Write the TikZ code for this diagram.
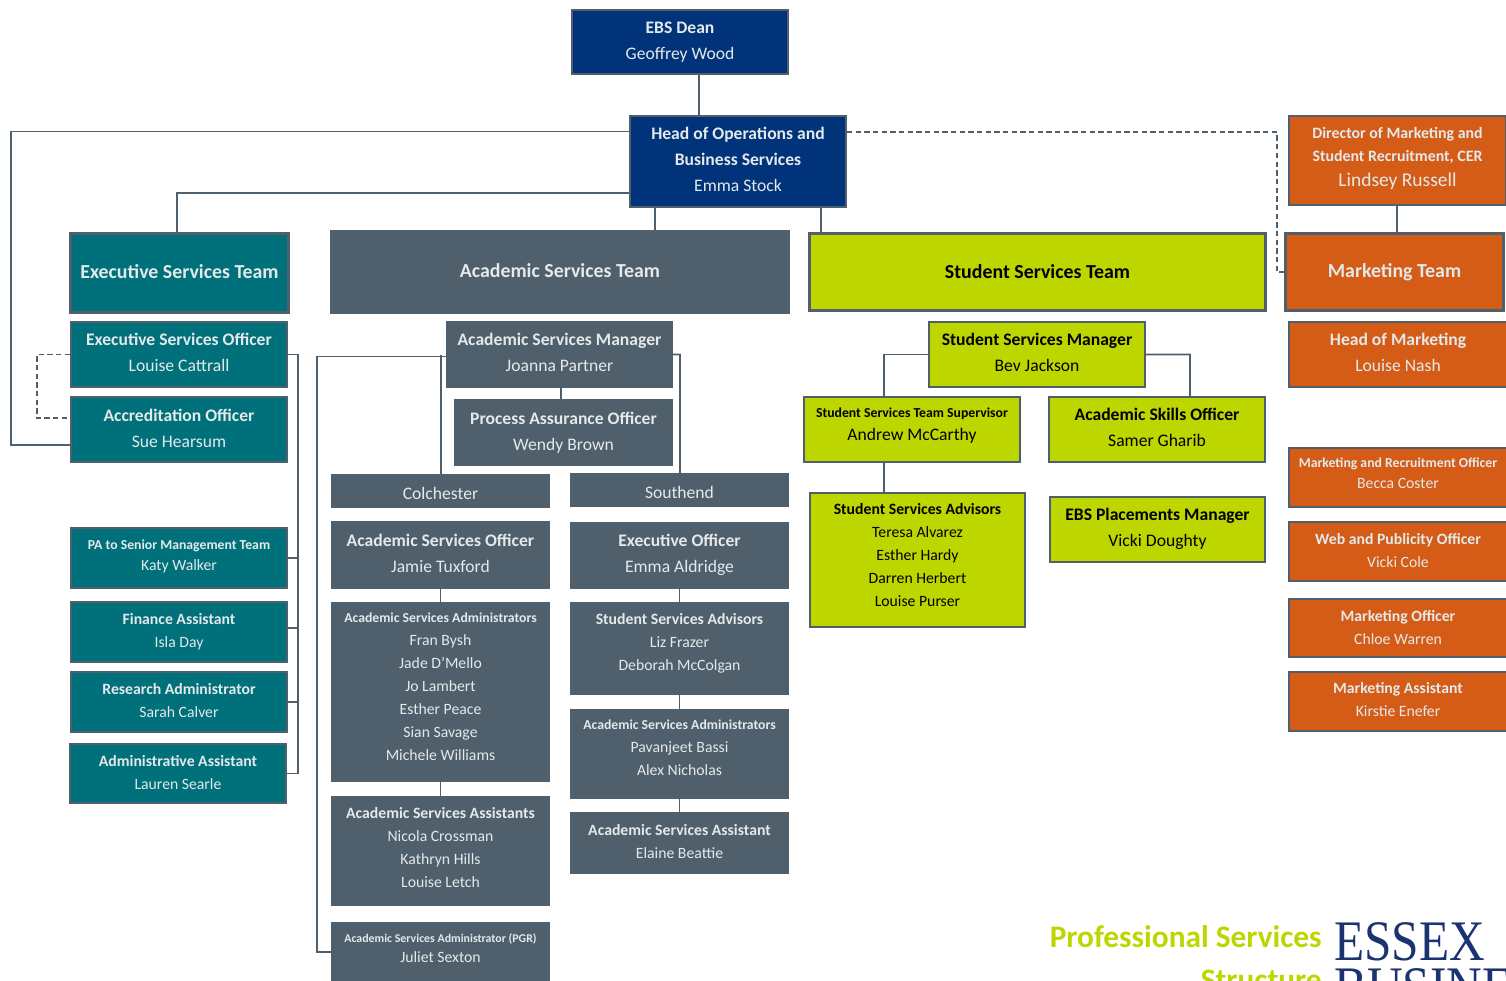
\documentclass[tikz,border=0pt]{standalone}
\usepackage{fontspec}
\setmainfont{Carlito}
\newfontfamily\logofont{Liberation Serif}
\usetikzlibrary{positioning,calc}
\definecolor{navy}{HTML}{00337A}
\definecolor{tealbg}{HTML}{00707A}
\definecolor{slate}{HTML}{4F5F6C}
\definecolor{lime}{HTML}{BED600}
\definecolor{rust}{HTML}{D55C17}
\definecolor{pale}{HTML}{E4E9EA}
\definecolor{logoblue}{HTML}{1B3370}
\newcommand{\ti}[1]{\textbf{#1}}
\newcommand{\tn}[1]{{\fontsize{10.3}{15}\selectfont\textbf{#1}}}
\newcommand{\up}{\\[\dimexpr\textupval+3pt-\baselineskip\relax]}
\tikzset{
	boxsize/.style 2 args={minimum width=#1*0.75pt-1.2pt, minimum height=#2*0.75pt-1.2pt},
	textup/.store in=\textupval,
	orgbox/.style={rectangle, draw=slate, line width=1.2pt, align=center, inner sep=0pt, text=pale, textup=1pt,
		font=\fontsize{13.2}{19.5}\selectfont},
	navybox/.style={orgbox, fill=navy},
	tealbox/.style={orgbox, fill=tealbg},
	slatebox/.style={orgbox, fill=slate},
	limebox/.style={orgbox, fill=lime, text=black},
	rustbox/.style={orgbox, fill=rust},
	teamfont/.style={line width=2pt, font=\fontsize{14.9}{19.5}\selectfont},
	smallfont/.style={font=\fontsize{11.8}{17.25}\selectfont},
	link/.style={draw=slate, line width=1.3pt},
	dashlink/.style={link, dash pattern=on 4pt off 2.5pt}
}
\begin{document}
\begin{tikzpicture}[x=0.75pt, y=-0.75pt]
	\useasboundingbox (0,0) rectangle (1506,981);
	\clip (0,0) rectangle (1506,981);
	% top of the tree
	\node[navybox, boxsize={218}{66}, textup=-1.5pt] (dean) at (680,42) {\ti{EBS Dean}\\Geoffrey Wood\up};
	\node[navybox, boxsize={218}{93}, textup=0pt] (head) at (738,161.5) {\ti{Head of Operations and}\\\ti{Business Services}\\Emma Stock\up};
	\node[rustbox, boxsize={219}{91}, font=\fontsize{11.9}{17.25}\selectfont, textup=3pt] (director) at (1397.5,160.5)
		{\ti{Director of Marketing and}\\\ti{Student Recruitment, CER}\\[1.5pt]{\fontsize{14.6}{17.25}\selectfont Lindsey Russell}\up};
	% teams
	\node[tealbox, boxsize={219}{80}, teamfont, textup=-1.5pt] (execteam) at (179.5,273) {\ti{Executive Services Team}\up};
	\node[slatebox, boxsize={458}{82}, teamfont, textup=-1.5pt] (acadteam) at (560,272) {\ti{Academic Services Team}\up};
	\node[limebox, boxsize={457}{78}, teamfont, textup=-3pt] (studteam) at (1037.5,272) {\ti{Student Services Team}\up};
	\node[rustbox, boxsize={219}{79}, teamfont, textup=-1.5pt] (mktteam) at (1394.5,272) {\ti{Marketing Team}\up};
	% executive services
	\node[tealbox, boxsize={218}{67}] (esofficer) at (179,354.5) {\ti{Executive Services Officer}\\Louise Cattrall\up};
	\node[tealbox, boxsize={218}{67}, textup=-0.5pt] (accred) at (179,429.5) {\ti{Accreditation Officer}\\Sue Hearsum\up};
	\node[tealbox, boxsize={218}{62}, smallfont, font=\fontsize{11.8}{15.75}\selectfont, textup=1.5pt] (pateam) at (179,558) {\tn{PA to Senior Management Team}\\Katy Walker\up};
	\node[tealbox, boxsize={218}{62}, smallfont, textup=-1pt] (finance) at (179,632) {\ti{Finance Assistant}\\Isla Day\up};
	\node[tealbox, boxsize={218}{62}, smallfont, textup=-0.5pt] (research) at (179,702) {\ti{Research Administrator}\\Sarah Calver\up};
	\node[tealbox, boxsize={218}{61}, smallfont, textup=-1pt] (adminassist) at (178,773.5) {\ti{Administrative Assistant}\\Lauren Searle\up};
	% academic services
	\node[slatebox, boxsize={227}{67}] (asmanager) at (559.5,354.5) {\ti{Academic Services Manager}\\Joanna Partner\up};
	\node[slatebox, boxsize={219}{67}, textup=-0.75pt] (process) at (563.5,432.5) {\ti{Process Assurance Officer}\\Wendy Brown\up};
	\node[slatebox, boxsize={219}{34}, textup=-6pt] (colchester) at (440.5,491) {Colchester\up};
	\node[slatebox, boxsize={219}{34}, textup=-6pt] (southend) at (679.5,490) {Southend\up};
	\node[slatebox, boxsize={219}{68}, textup=-1pt] (asofficer) at (440.5,555) {\ti{Academic Services Officer}\\Jamie Tuxford\up};
	\node[slatebox, boxsize={219}{67}, textup=0pt] (execofficer) at (679.5,555.5) {\ti{Executive Officer}\\Emma Aldridge\up};
	\node[slatebox, boxsize={219}{180}, smallfont, textup=5.5pt] (adminscol) at (440.5,692)
		{\tn{Academic Services Administrators}\\Fran Bysh\\Jade D'Mello\\Jo Lambert\\Esther Peace\\Sian Savage\\Michele Williams\up};
	\node[slatebox, boxsize={219}{93}, smallfont, textup=7.5pt] (advisors) at (679.5,648.5) {\ti{Student Services Advisors}\\Liz Frazer\\Deborah McColgan\up};
	\node[slatebox, boxsize={219}{90}, smallfont, textup=6pt] (adminssou) at (679.5,754)
		{\tn{Academic Services Administrators}\\Pavanjeet Bassi\\Alex Nicholas\up};
	\node[slatebox, boxsize={219}{62}, smallfont, textup=0pt] (assistsou) at (679.5,843) {\ti{Academic Services Assistant}\\Elaine Beattie\up};
	\node[slatebox, boxsize={219}{110}, smallfont, textup=3pt] (assistcol) at (440.5,851) {\ti{Academic Services Assistants}\\Nicola Crossman\\Kathryn Hills\\Louise Letch\up};
	\node[slatebox, boxsize={219}{70}, font=\fontsize{11.8}{15}\selectfont, textup=-5pt] (pgradmin) at (440.5,957)
		{{\fontsize{8.9}{15}\selectfont\ti{Academic Services Administrator (PGR)}}\\Juliet Sexton\\\strut\up};
	% student services
	\node[limebox, boxsize={218}{67}] (ssmanager) at (1037,354.5) {\ti{Student Services Manager}\\Bev Jackson\up};
	\node[limebox, boxsize={218}{67}, font=\fontsize{13.2}{17.25}\selectfont, textup=5pt] (supervisor) at (912,429.5)
		{\tn{Student Services Team Supervisor}\\Andrew McCarthy\up};
	\node[limebox, boxsize={218}{67}, textup=0pt] (skills) at (1157,429.5) {\ti{Academic Skills Officer}\\Samer Gharib\up};
	\node[limebox, boxsize={217}{136}, smallfont, textup=4.5pt] (ssadvisors) at (917.5,560)
		{\ti{Student Services Advisors}\\Teresa Alvarez\\Esther Hardy\\Darren Herbert\\Louise Purser\up};
	\node[limebox, boxsize={217}{67}, textup=0pt] (placements) at (1157.5,529.5) {\ti{EBS Placements Manager}\\Vicki Doughty\up};
	% marketing
	\node[rustbox, boxsize={220}{67}] (headmkt) at (1398,354.5) {\ti{Head of Marketing}\\Louise Nash\up};
	\node[rustbox, boxsize={220}{61}, font=\fontsize{11.8}{15.75}\selectfont, textup=3pt] (recruit) at (1398,477.5) {\tn{Marketing and Recruitment Officer}\\Becca Coster\up};
	\node[rustbox, boxsize={220}{61}, smallfont, textup=-1.5pt] (webpub) at (1398,551.5) {\ti{Web and Publicity Officer}\\Vicki Cole\up};
	\node[rustbox, boxsize={220}{60}, smallfont, textup=-1.5pt] (mktofficer) at (1398,628) {\ti{Marketing Officer}\\Chloe Warren\up};
	\node[rustbox, boxsize={220}{61}, smallfont, textup=0pt] (mktassist) at (1398,701.5) {\ti{Marketing Assistant}\\Kirstie Enefer\up};
	% footer
	\node[anchor=base east, inner sep=0pt, text=lime, font=\fontsize{23.5}{24}\selectfont] (footone) at (1322,947) {\ti{Professional Services}};
	\node[anchor=base east, inner sep=0pt, text=lime, font=\fontsize{23.5}{24}\selectfont] (foottwo) at (1322,990) {\ti{Structure}};
	\node[anchor=base west, inner sep=0pt, text=logoblue, xscale=0.86, transform shape, font=\logofont\fontsize{43}{43}\selectfont] (logoone) at (1334,960) {ESSEX};
	\node[anchor=base west, inner sep=0pt, text=logoblue, xscale=0.86, transform shape, font=\logofont\fontsize{43}{43}\selectfont] (logotwo) at (1334,1006) {BUSINESS};
	% connectors
	\draw[link] (dean.south -| 699,0) -- (head.north -| 699,0);
	\draw[link] ([yshift=22.5pt]head.west) -- ++(-618,0) |- ([yshift=-11.6pt]accred.west);
	\draw[link] ([yshift=-23.5pt]head.west) -| (execteam.north -| 177,0);
	\draw[link] (head.south -| 655,0) -- (acadteam.north -| 655,0);
	\draw[link] (head.south -| 821,0) -- (studteam.north -| 821,0);
	\draw[dashlink] ([yshift=22pt]head.east) -| (1277,272) -- (mktteam.west |- 0,272);
	\draw[link] (director.south -| 1397,0) -- (mktteam.north -| 1397,0);
	\draw[dashlink] (esofficer.west) -- ++(-33,0) |- ([yshift=8.5pt]accred.west);
	\draw[link] (esofficer.east) -- ++(10,0) |- (adminassist.east);
	\draw[link] (pateam.east) -- ++(10,0);
	\draw[link] (finance.east |- 0,628) -- ++(10,0);
	\draw[link] (research.east) -- ++(10,0);
	\draw[link] ([yshift=-1.5pt]asmanager.west) -- ++(-129,0) |- (pgradmin.west |- 0,952);
	\draw[link] (asmanager.west -| 441,0) -- (colchester.north -| 441,0);
	\draw[link] (asmanager.east) -- ++(7,0) -- (southend.north -| 680,0);
	\draw[link] (asmanager.south -| 561,0) -- (process.north -| 561,0);
	\draw[link] (asofficer) -- (adminscol);
	\draw[link] (adminscol) -- (assistcol);
	\draw[link] (execofficer) -- (advisors);
	\draw[link] (advisors) -- (adminssou);
	\draw[link] (adminssou) -- (assistsou);
	\draw[link] (ssmanager.west) -- ++(-44,0) -- (supervisor.north -| 884,0);
	\draw[link] (ssmanager.east) -- ++(44,0) -- (skills.north -| 1190,0);
	\draw[link] (supervisor.south -| 884,0) -- (ssadvisors.north -| 884,0);
\end{tikzpicture}
\end{document}
